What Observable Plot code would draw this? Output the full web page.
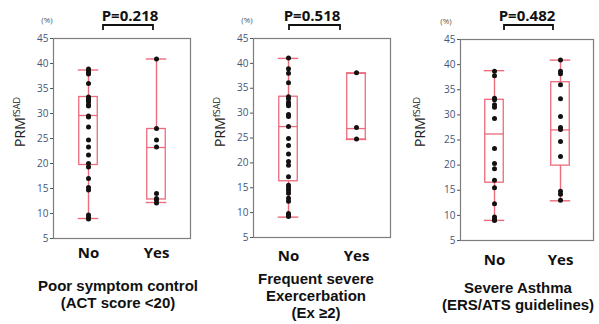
<!DOCTYPE html>
<html>
<head>
<meta charset="utf-8">
<script src="https://cdn.jsdelivr.net/npm/d3@7"></script>
<script src="https://cdn.jsdelivr.net/npm/@observablehq/plot@0.6"></script>
<style>
  html, body { margin: 0; padding: 0; background: #fff; }
  #wrap { position: relative; width: 599px; height: 324px; overflow: hidden; font-family: "Open Sans", sans-serif; }
  .abs { position: absolute; transform: translate(-50%, -50%); white-space: nowrap; }
  .pval { font-weight: bold; font-size: 15px; color: #111; }
  .title { font-family: "Liberation Sans", Arial, sans-serif; font-weight: bold; font-size: 15px; color: #111; line-height: 17px; text-align: center; transform: translate(-50%, 0); }
  .pct { font-size: 8px; color: #555; }
  .ylab { font-size: 14px; color: #222; transform: translate(-50%, -50%) rotate(-90deg); }
  .ylab sup { font-size: 9px; vertical-align: 5px; }
</style>
</head>
<body>
<div id="wrap"></div>
<script>
// ---- data ----
const groups = ["No", "Yes"];
const yTicks = [5, 10, 15, 20, 25, 30, 35, 40, 45];
const pValues = ["P=0.218", "P=0.518", "P=0.482"];
const titles = [
  ["Poor symptom control", "(ACT score <20)"],
  ["Frequent severe", "Exercerbation", "(Ex \u22652)"],
  ["Severe Asthma", "(ERS/ATS guidelines)"]
];

// individual points
const p1No  = [38.9, 38.5, 38.1, 37.9, 36.0, 33.3, 33.0, 32.7, 32.3, 31.7, 31.5, 29.5, 29.3, 27.3, 24.7, 23.3, 21.7, 20.0, 19.3, 17.0, 15.2, 14.7, 9.7, 9.2, 8.9];
const p1Yes = [40.9, 27.0, 24.7, 23.3, 14.0, 13.0, 12.7, 12.1];
const p2No  = [41.1, 38.9, 38.0, 36.1, 33.3, 32.9, 32.2, 31.8, 31.5, 29.7, 29.3, 27.3, 24.9, 23.5, 21.8, 20.3, 19.5, 17.2, 15.5, 15.0, 14.5, 13.9, 12.9, 12.3, 9.8, 9.5, 9.2];
const p2Yes = [38.1, 27.1, 24.8];
const p3No  = [38.7, 37.8, 33.3, 33.0, 32.0, 31.5, 29.3, 23.3, 20.3, 19.3, 17.0, 15.5, 12.3, 9.7, 9.2, 9.0];
const p3Yes = [40.9, 38.7, 38.2, 36.0, 33.2, 29.7, 27.5, 27.1, 24.7, 21.7, 14.8, 14.2, 13.0];

// box statistics: [min, q1, median, q3, max]
const s1No  = [9.0, 19.7, 29.6, 33.3, 38.7];
const s1Yes = [12.2, 12.8, 23.2, 26.9, 40.9];
const s2No  = [9.1, 16.3, 27.3, 33.3, 41.0];
const s2Yes = [24.7, 24.7, 26.9, 38.0, 38.0];
const s3No  = [9.0, 16.5, 26.2, 33.0, 38.8];
const s3Yes = [12.9, 19.9, 27.0, 36.5, 40.9];

const pointSets = [[p1No, p1Yes], [p2No, p2Yes], [p3No, p3Yes]];
const statSets = [[s1No, s1Yes], [s2No, s2Yes], [s3No, s3Yes]];

// ---- layout ----
const layout = [
  {L: 0,   W: 200, mL: 53, mR: 10, mT: 38, mB: 86, tickPad: 9,  pX: 130, pY: 15, br: [103, 153], brY: 25, tX: 118, tY: 277, ylX: 19, ylY: 122, pctX: 47, pctY: 19},
  {L: 200, W: 200, mL: 53, mR: 10, mT: 38, mB: 87, tickPad: 13, pX: 312, pY: 15, br: [289, 340], brY: 25, tX: 316, tY: 270, ylX: 219, ylY: 122, pctX: 247, pctY: 19},
  {L: 400, W: 199, mL: 60, mR: 6,  mT: 39, mB: 84, tickPad: 14, pX: 527, pY: 15, br: [504, 553], brY: 25, tX: 518, tY: 279, ylX: 419, ylY: 122, pctX: 446, pctY: 20}
];
const red = "#ec6b7c";
const wrap = document.getElementById("wrap");

layout.forEach((lay, i) => {
  const points = [];
  pointSets[i].forEach((arr, g) => arr.forEach(v => points.push({group: groups[g], value: v})));
  const boxes = statSets[i].map((s, g) => ({group: groups[g], min: s[0], q1: s[1], median: s[2], q3: s[3], max: s[4]}));
  const frameW = lay.W - lay.mL - lay.mR;
  const band = frameW / 2;
  const boxInset = (band - 19) / 2;
  const capInset = (band - 21) / 2;

  const chart = Plot.plot({
    width: lay.W,
    height: 324,
    marginLeft: lay.mL, marginRight: lay.mR, marginTop: lay.mT, marginBottom: lay.mB,
    x: {type: "band", domain: groups, padding: 0},
    y: {domain: [5, 45]},
    style: {fontFamily: "Open Sans, sans-serif", background: "transparent", overflow: "visible"},
    marks: [
      Plot.frame({stroke: "#7d7d7d", strokeWidth: 1.2}),
      Plot.axisY({ticks: yTicks, tickSize: 3, tickPadding: 2, fontSize: 10, fill: "#44557a", stroke: "#555", label: null}),
      Plot.axisX({tickSize: 0, tickPadding: lay.tickPad, fontSize: 15, fontWeight: "bold", fill: "#111", label: null}),
      Plot.ruleX(boxes, {x: "group", y1: "min", y2: "q1", stroke: red, strokeWidth: 1.4}),
      Plot.ruleX(boxes, {x: "group", y1: "q3", y2: "max", stroke: red, strokeWidth: 1.4}),
      Plot.barY(boxes, {x: "group", y1: "q1", y2: "q3", fill: "none", stroke: red, strokeWidth: 1.3, insetLeft: boxInset, insetRight: boxInset}),
      Plot.tickY(boxes, {x: "group", y: "median", stroke: red, strokeWidth: 1.3, insetLeft: boxInset, insetRight: boxInset}),
      Plot.tickY(boxes, {x: "group", y: "min", stroke: red, strokeWidth: 1.4, insetLeft: capInset, insetRight: capInset}),
      Plot.tickY(boxes, {x: "group", y: "max", stroke: red, strokeWidth: 1.4, insetLeft: capInset, insetRight: capInset}),
      Plot.dot(points, {x: "group", y: "value", r: 2.5, fill: "#141010", stroke: "none"})
    ]
  });
  chart.style.position = "absolute";
  chart.style.left = lay.L + "px";
  chart.style.top = "0px";
  wrap.appendChild(chart);

  // p-value and bracket
  const p = document.createElement("div");
  p.className = "abs pval";
  p.style.left = lay.pX + "px"; p.style.top = lay.pY + "px";
  p.textContent = pValues[i];
  wrap.appendChild(p);

  const ns = "http://www.w3.org/2000/svg";
  const br = document.createElementNS(ns, "svg");
  br.setAttribute("width", 599); br.setAttribute("height", 324);
  br.style.position = "absolute"; br.style.left = "0"; br.style.top = "0";
  const path = document.createElementNS(ns, "path");
  path.setAttribute("d", `M${lay.br[0]},${lay.brY + 5}V${lay.brY}H${lay.br[1]}V${lay.brY + 5}`);
  path.setAttribute("fill", "none"); path.setAttribute("stroke", "#111"); path.setAttribute("stroke-width", "1.8");
  br.appendChild(path);
  wrap.appendChild(br);

  const pct = document.createElement("div");
  pct.className = "abs pct";
  pct.style.left = lay.pctX + "px"; pct.style.top = lay.pctY + "px";
  pct.textContent = "(%)";
  wrap.appendChild(pct);

  const yl = document.createElement("div");
  yl.className = "abs ylab";
  yl.style.left = lay.ylX + "px"; yl.style.top = lay.ylY + "px";
  yl.innerHTML = "PRM<sup>fSAD</sup>";
  wrap.appendChild(yl);

  const t = document.createElement("div");
  t.className = "abs title";
  t.style.left = lay.tX + "px"; t.style.top = lay.tY + "px";
  t.innerHTML = titles[i].map(s => s.replace(/</g, "&lt;")).join("<br>");
  wrap.appendChild(t);
});
</script>
</body>
</html>
